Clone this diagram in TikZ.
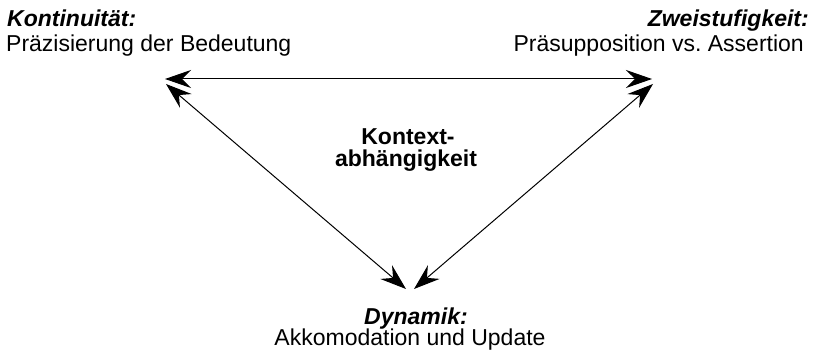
\documentclass[tikz,border=0pt]{standalone}
\usepackage{fontspec}
\setmainfont{Liberation Sans}
\usetikzlibrary{arrows.meta}
\frenchspacing
\begin{document}
\begin{tikzpicture}[x=1pt,y=-1pt,
  txt/.style={inner sep=0pt, font=\fontsize{23}{25}\selectfont},
  head/.style={txt, font=\fontsize{23}{25}\selectfont\bfseries\itshape},
  center/.style={txt, font=\fontsize{23}{25}\selectfont\bfseries},
  link/.style={line width=1pt, {Stealth[length=26pt,width=18pt,inset=9pt]}-{Stealth[length=26pt,width=18pt,inset=9pt]}}]
  \useasboundingbox (0,0) rectangle (820,352);

  % corner labels
  \node[head, anchor=base west] (konth) at (7,27) {Kontinuität:};
  \node[txt,  anchor=base west] (konts) at (6,52) {Präzisierung der Bedeutung};
  \node[head, anchor=base east] (zweih) at (809,27) {Zweistufigkeit:};
  \node[txt,  anchor=base east] (zweis) at (804,52) {Präsupposition vs. Assertion};
  \node[head, anchor=base] (dynh) at (416,325) {Dynamik:};
  \node[txt,  anchor=base] (dyns) at (410,346) {Akkomodation und Update};

  % centre label
  \node[center, anchor=base] (ctx1) at (408,145) {Kontext-};
  \node[center, anchor=base] (ctx2) at (406,167) {abhängigkeit};

  % arrow ends
  \coordinate (lt) at (165,79);
  \coordinate (rt) at (652,79);
  \coordinate (ld) at (166,84);
  \coordinate (rd) at (653,84);
  \coordinate (bl) at (406,289);
  \coordinate (br) at (414,289);

  \draw[link] (lt) -- (rt);
  \draw[link] (ld) -- (bl);
  \draw[link] (rd) -- (br);
\end{tikzpicture}
\end{document}
